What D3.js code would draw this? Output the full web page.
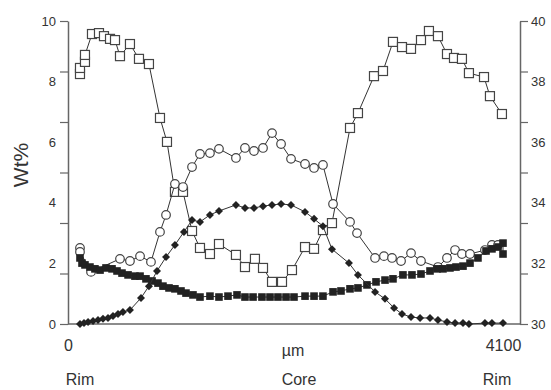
<!DOCTYPE html>
<html lang="en">
<head>
    <meta charset="UTF-8">
    <script src="https://d3js.org/d3.v7.min.js" charset="utf-8"></script>
    <title>Rim - Core - Rim profile</title>
    <style>
        body { margin: 0; background: white; }
        svg text { font-family: "Liberation Sans", Arial, sans-serif; fill: #333; }
    </style>
</head>
<body>
<div class="chart"></div>

<script>
    // distance (µm) and Wt%
    const openSquares = [
        [113, 8.25], [113, 8.45], [160, 8.65], [160, 8.88], [226, 9.57], [292, 9.60], [339, 9.50],
        [396, 9.41], [443, 9.37], [490, 8.84], [584, 9.24], [669, 8.75], [763, 8.58], [867, 6.80],
        [933, 6.01], [1008, 4.36], [1084, 4.36], [1169, 3.07], [1244, 2.51], [1338, 2.31], [1423, 2.64],
        [1583, 2.28], [1668, 1.88], [1762, 2.15], [1838, 1.85], [1923, 1.39], [2017, 1.39], [2111, 1.78],
        [2234, 2.54], [2319, 2.48], [2403, 3.10], [2488, 3.33], [2658, 6.47], [2733, 6.96], [2884, 8.18],
        [2969, 8.35], [3063, 9.31], [3148, 9.14], [3233, 9.08], [3327, 9.37], [3402, 9.67], [3487, 9.50],
        [3572, 8.91], [3638, 8.78], [3713, 8.75], [3779, 8.28], [3921, 8.15], [3977, 7.52], [4090, 6.93]
    ];

    const openCircles = [
        [113, 2.51], [113, 2.38], [217, 1.72], [490, 2.15], [584, 2.08], [679, 2.24], [782, 2.05],
        [867, 3.04], [924, 3.60], [1008, 4.62], [1084, 4.52], [1169, 5.18], [1244, 5.61], [1338, 5.64],
        [1423, 5.78], [1583, 5.48], [1668, 5.81], [1753, 5.71], [1838, 5.81], [1923, 6.30], [2008, 5.94],
        [2102, 5.45], [2234, 5.28], [2319, 5.15], [2403, 5.25], [2498, 3.96], [2658, 3.37], [2724, 3.00],
        [2894, 2.18], [2978, 2.24], [3054, 2.18], [3139, 2.08], [3233, 2.34], [3327, 2.08], [3487, 1.88],
        [3572, 2.18], [3648, 2.44], [3713, 2.31], [3789, 2.31], [3930, 2.44], [3996, 2.61], [4053, 2.61]
    ];

    const filledSquares = [
        [113, 2.18], [132, 2.01], [160, 1.95], [207, 1.88], [254, 1.82], [302, 1.78], [358, 1.85],
        [415, 1.82], [462, 1.75], [509, 1.68], [566, 1.62], [631, 1.58], [679, 1.58], [735, 1.49],
        [792, 1.42], [848, 1.35], [895, 1.25], [952, 1.19], [1008, 1.16], [1065, 1.09], [1112, 1.02],
        [1178, 0.96], [1244, 0.89], [1338, 0.92], [1423, 0.89], [1508, 0.92], [1593, 0.96], [1668, 0.89],
        [1744, 0.89], [1828, 0.89], [1904, 0.89], [1979, 0.89], [2055, 0.89], [2130, 0.89], [2234, 0.92],
        [2319, 0.92], [2403, 0.92], [2498, 1.06], [2573, 1.09], [2658, 1.16], [2733, 1.19], [2818, 1.29],
        [2903, 1.39], [2988, 1.45], [3063, 1.49], [3157, 1.62], [3242, 1.62], [3327, 1.65], [3412, 1.75],
        [3478, 1.82], [3534, 1.82], [3600, 1.85], [3657, 1.88], [3723, 1.91], [3789, 2.01], [3864, 2.18],
        [3940, 2.41], [3996, 2.48], [4053, 2.54], [4100, 2.67], [4100, 2.31]
    ];

    const diamonds = [
        [113, 0.00], [151, 0.03], [189, 0.07], [236, 0.10], [283, 0.13], [330, 0.17], [377, 0.20],
        [424, 0.26], [471, 0.33], [518, 0.40], [584, 0.46], [688, 0.86], [763, 1.25], [839, 1.75],
        [924, 2.21], [1008, 2.61], [1093, 3.04], [1169, 3.43], [1244, 3.37], [1338, 3.60], [1423, 3.73],
        [1583, 3.93], [1668, 3.83], [1753, 3.83], [1838, 3.89], [1923, 3.93], [2008, 3.96], [2102, 3.93],
        [2234, 3.70], [2319, 3.47], [2403, 3.23], [2488, 2.47], [2648, 2.01], [2733, 1.62], [2894, 1.06],
        [2988, 0.83], [3073, 0.53], [3148, 0.33], [3233, 0.23], [3318, 0.20], [3412, 0.20], [3487, 0.13],
        [3572, 0.07], [3648, 0.03], [3723, 0.03], [3779, 0.00], [3930, 0.03], [3996, 0.03], [4100, 0.03]
    ];

    const leftLabels = [0, 2, 4, 6, 8, 10];
    const rightLabels = [30, 32, 34, 36, 38, 40];
    const xLabels = [0, 4100];

    const width = 551;
    const height = 390;
    const axisColor = "#666";
    const lineColor = "#333";

    const svg = d3.select(".chart").append("svg")
        .attr("width", width)
        .attr("height", height);

    const x = d3.scaleLinear().domain([0, 4100]).range([68, 503]);
    const y = d3.scaleLinear().domain([0, 10]).range([324, 21]);
    const yRight = d3.scaleLinear().domain([30, 40]).range([324, 21]);

    // tick marks sit on 6 equal steps, the labels on every 2 units (as in the scan)
    const tickSteps = d3.range(7).map(i => i / 6);

    // left axis
    const leftTicks = svg.append("g")
        .attr("transform", "translate(68,0)")
        .call(d3.axisLeft(y).tickValues(tickSteps.map(t => t * 10)).tickFormat("").tickSize(8).tickSizeOuter(0));
    const leftText = svg.append("g")
        .attr("transform", "translate(68,0)")
        .call(d3.axisLeft(y).tickValues(leftLabels).tickSize(0).tickPadding(12).tickFormat(d3.format("d")));
    leftText.select(".domain").remove();
    leftText.selectAll("text").style("font-size", "13px");

    // right axis
    const rightTicks = svg.append("g")
        .attr("transform", "translate(520,0)")
        .call(d3.axisRight(yRight).tickValues(tickSteps.map(t => 30 + t * 10)).tickFormat("").tickSize(8).tickSizeOuter(0));
    const rightText = svg.append("g")
        .attr("transform", "translate(520,0)")
        .call(d3.axisRight(yRight).tickValues(rightLabels).tickSize(0).tickPadding(11).tickFormat(d3.format("d")));
    rightText.select(".domain").remove();
    rightText.selectAll("text").style("font-size", "13px");

    [leftTicks, rightTicks].forEach(g => {
        g.select(".domain").attr("stroke", axisColor).attr("stroke-width", 1.5);
        g.selectAll(".tick line").attr("stroke", axisColor).attr("stroke-width", 1.2);
    });

    // bottom line runs under both axes
    svg.append("line")
        .attr("x1", 68).attr("x2", 520)
        .attr("y1", 324).attr("y2", 324)
        .attr("stroke", axisColor)
        .attr("stroke-width", 1.5);

    // x labels
    const bottomText = svg.append("g")
        .attr("transform", "translate(0,324)")
        .call(d3.axisBottom(x).tickValues(xLabels).tickSize(0).tickPadding(16).tickFormat(d3.format("d")));
    bottomText.select(".domain").remove();
    bottomText.selectAll("text").style("font-size", "16px");

    svg.append("text")
        .attr("x", 293).attr("y", 356)
        .attr("text-anchor", "middle")
        .style("font-size", "16px")
        .text("µm");

    [["Rim", 80], ["Core", 299], ["Rim", 497]].forEach(([t, cx]) => {
        svg.append("text")
            .attr("x", cx).attr("y", 385)
            .attr("text-anchor", "middle")
            .style("font-size", "16px")
            .text(t);
    });

    svg.append("text")
        .attr("transform", "translate(28,165) rotate(-90)")
        .attr("text-anchor", "middle")
        .style("font-size", "21px")
        .text("Wt%");

    const line = d3.line().x(d => x(d[0])).y(d => y(d[1]));

    const drawLine = data => {
        svg.append("path")
            .datum(data)
            .attr("d", line)
            .attr("fill", "none")
            .attr("stroke", lineColor)
            .attr("stroke-width", 1);
    };

    // open squares
    drawLine(openSquares);
    svg.append("g").selectAll("rect")
        .data(openSquares)
        .join("rect")
        .attr("x", d => x(d[0]) - 4.5)
        .attr("y", d => y(d[1]) - 4.5)
        .attr("width", 9)
        .attr("height", 9)
        .attr("fill", "white")
        .attr("stroke", "#444")
        .attr("stroke-width", 1.2);

    // open circles
    drawLine(openCircles);
    svg.append("g").selectAll("circle")
        .data(openCircles)
        .join("circle")
        .attr("cx", d => x(d[0]))
        .attr("cy", d => y(d[1]))
        .attr("r", 4.3)
        .attr("fill", "white")
        .attr("stroke", "#444")
        .attr("stroke-width", 1.2);

    // filled squares
    drawLine(filledSquares);
    svg.append("g").selectAll("rect")
        .data(filledSquares)
        .join("rect")
        .attr("x", d => x(d[0]) - 3.8)
        .attr("y", d => y(d[1]) - 3.8)
        .attr("width", 7.6)
        .attr("height", 7.6)
        .attr("fill", "#222");

    // diamonds
    drawLine(diamonds);
    svg.append("g").selectAll("path")
        .data(diamonds)
        .join("path")
        .attr("transform", d => `translate(${x(d[0])},${y(d[1])})`)
        .attr("d", "M0,-4L4,0L0,4L-4,0Z")
        .attr("fill", "#222");
</script>
</body>
</html>
